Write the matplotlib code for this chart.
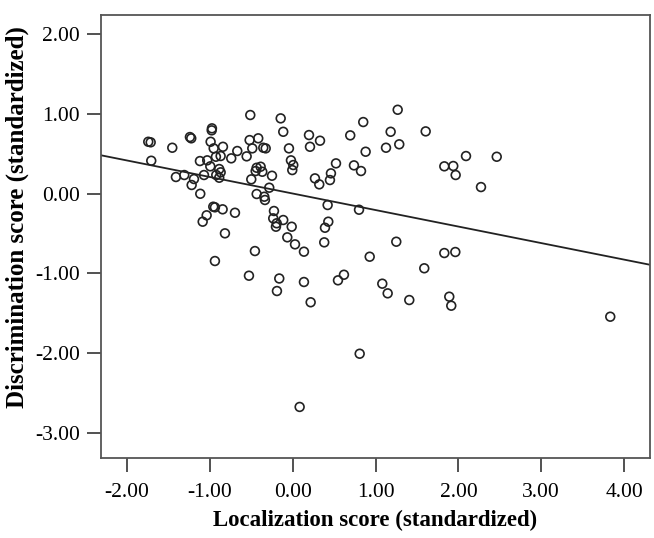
import matplotlib.pyplot as plt
import numpy as np

# localization (x) and discrimination (y) scores, both standardized
loc_score = [
    -1.745, -1.716, -1.455, -1.242, -1.226, -0.976, -0.979, -0.992, -0.955, -0.843,
    -0.871, -0.928, -0.743, -0.670, -1.709, -1.121, -1.033, -0.996, -0.888, -0.871,
    -1.411, -1.310, -1.193, -1.221, -1.072, -0.924, -0.888, -1.117, -0.960, -0.940,
    -0.847, -0.698, -1.040, -1.088, -0.819, -0.940,
    -0.513, -0.146, -0.115, -0.521, -0.417, -0.356, -0.327, -0.489, -0.557, -0.046,
    0.196, 0.329, 0.208, -0.022, 0.006, -0.006, 0.522, -0.436, -0.388, -0.368,
    -0.448, -0.251, -0.501, 0.268, 0.461, 0.449, 0.320, -0.284, -0.436, -0.344,
    -0.336, -0.227, -0.236, -0.194, -0.115, -0.203, -0.013, -0.066, 0.027, 0.135,
    0.421, 0.429, 0.389, 0.380, -0.457, -0.529, -0.163, -0.191, 0.135, 0.216,
    0.546, 0.618, 0.083,
    1.267, 0.851, 0.694, 1.182, 1.605, 0.880, 1.126, 1.286, 0.739, 0.824,
    2.092, 2.463, 1.830, 1.938, 1.967, 2.273, 0.800, 1.250, 0.929, 1.830,
    1.963, 1.081, 1.146, 0.808, 1.588, 1.407, 1.890, 1.914, 3.834,
]
disc_score = [
    0.649, 0.642, 0.574, 0.708, 0.692, 0.817, 0.792, 0.649, 0.566, 0.586,
    0.470, 0.461, 0.441, 0.533, 0.411, 0.407, 0.416, 0.341, 0.307, 0.266,
    0.207, 0.232, 0.182, 0.107, 0.232, 0.232, 0.198, -0.003, -0.165, -0.173,
    -0.198, -0.241, -0.273, -0.353, -0.499, -0.846,
    0.984, 0.942, 0.774, 0.670, 0.692, 0.574, 0.566, 0.566, 0.466, 0.566,
    0.733, 0.662, 0.586, 0.416, 0.357, 0.294, 0.378, 0.323, 0.336, 0.273,
    0.282, 0.223, 0.178, 0.190, 0.253, 0.169, 0.115, 0.073, -0.006, -0.040,
    -0.081, -0.219, -0.311, -0.373, -0.332, -0.416, -0.416, -0.549, -0.637, -0.729,
    -0.144, -0.353, -0.429, -0.612, -0.721, -1.030, -1.065, -1.222, -1.109, -1.363,
    -1.088, -1.018, -2.675,
    1.050, 0.896, 0.729, 0.774, 0.779, 0.524, 0.574, 0.617, 0.353, 0.282,
    0.470, 0.461, 0.341, 0.345, 0.232, 0.081, -0.203, -0.604, -0.792, -0.746,
    -0.733, -1.130, -1.251, -2.008, -0.937, -1.335, -1.293, -1.406, -1.544,
]

# fitted regression line
fit_intercept = 0.0
fit_slope = -0.207

x_ticks = [-2, -1, 0, 1, 2, 3, 4]
y_ticks = [2, 1, 0, -1, -2, -3]

plt.rcParams["font.family"] = ["Liberation Serif", "DejaVu Serif"]

fig = plt.figure(figsize=(6.54, 5.38), dpi=100)
ax = fig.add_axes([0.1544, 0.1487, 0.8395, 0.8233])

ax.scatter(loc_score, disc_score, s=40, facecolors="none", edgecolors="#222222",
           linewidths=1.2, zorder=3)

xl = np.array([-2.316, 4.314])
ax.plot(xl, fit_intercept + fit_slope * xl, color="#222222", lw=1.3, zorder=2)

ax.set_xlim(-2.316, 4.314)
ax.set_ylim(-3.315, 2.237)
ax.set_xticks(x_ticks)
ax.set_yticks(y_ticks)
ax.set_xticklabels([f"{v:.2f}" for v in x_ticks])
ax.set_yticklabels([f"{v:.2f}" for v in y_ticks])
ax.tick_params(axis="both", direction="out", length=10, width=1.2, colors="#333333",
               labelsize=15.5, labelcolor="black")
ax.tick_params(axis="x", pad=8)
ax.tick_params(axis="y", pad=5)

for sp in ax.spines.values():
    sp.set_linewidth(1.3)
    sp.set_color("#555555")

ax.set_xlabel("Localization score (standardized)", fontsize=16.5, fontweight="bold",
              va="center")
ax.set_ylabel("Discrimination score (standardized)", fontsize=18, fontweight="bold",
              va="center")
ax.xaxis.set_label_coords(0.5, -0.142)
ax.yaxis.set_label_coords(-0.152, 0.545)

plt.savefig("out.png", dpi=100)
